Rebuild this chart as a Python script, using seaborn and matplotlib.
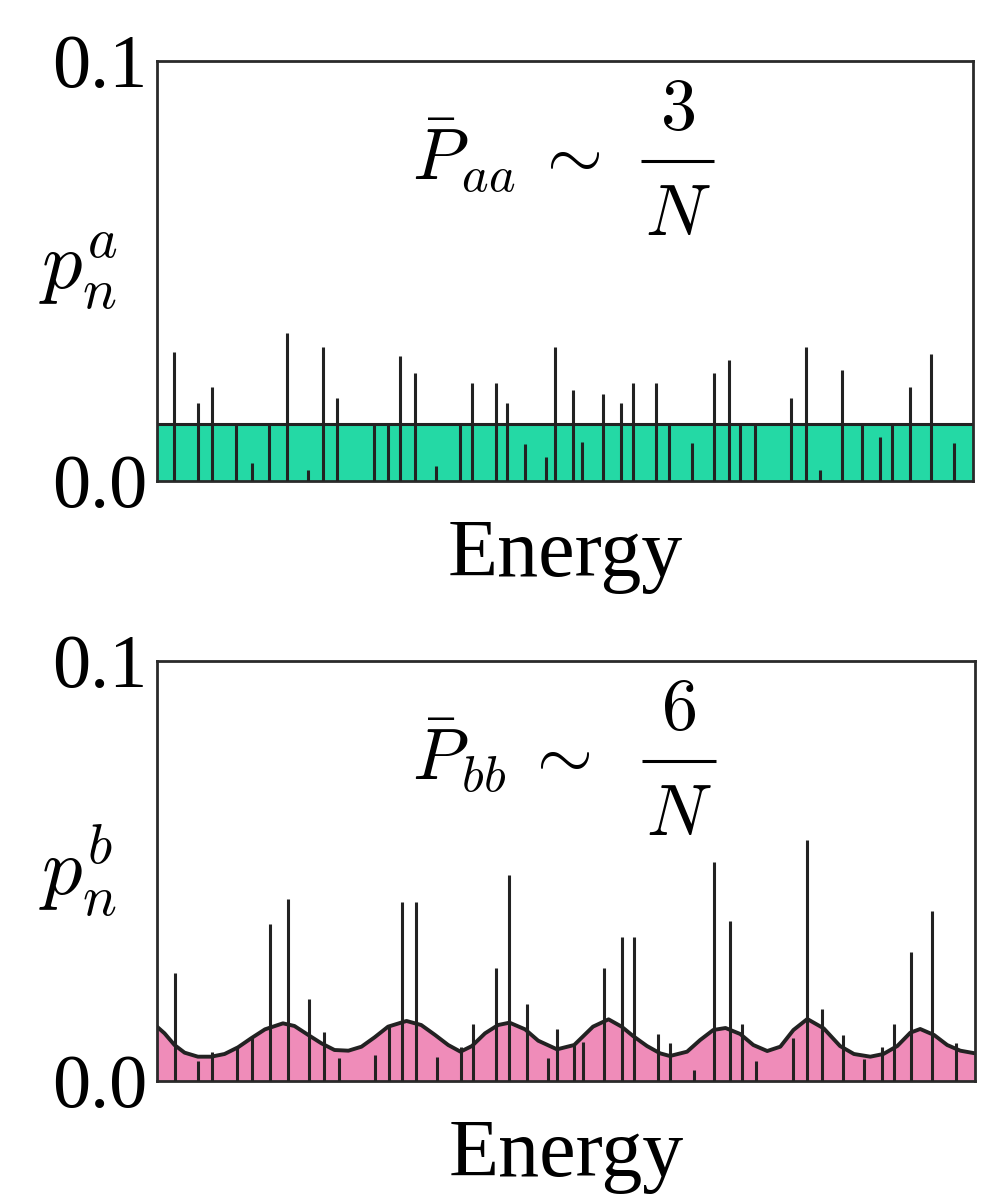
import matplotlib
matplotlib.use("Agg")
import matplotlib.pyplot as plt
import seaborn as sns
import numpy as np
import pandas as pd
from matplotlib.ticker import FixedLocator, FormatStrFormatter

sns.set_theme(style="white")
plt.rcParams['font.family'] = ['Liberation Serif', 'DejaVu Serif']
plt.rcParams['mathtext.fontset'] = 'cm'
plt.rcParams['text.color'] = 'black'
plt.rcParams['axes.labelcolor'] = 'black'

# ---------------- data ----------------
# Top panel: eigenstate weights p_n^a vs energy (energy in 0..100)
energy_a = [2.05, 4.99, 6.70, 9.72, 11.6, 13.76, 15.93, 18.5, 20.3, 22.1,
            26.56, 28.35, 29.8, 31.6, 34.2, 37.1, 38.6, 41.5, 42.9, 45.1,
            47.7, 48.8, 51.0, 52.1, 54.66, 56.86, 58.3, 61.2, 62.7, 65.6,
            68.2, 70.06, 71.5, 73.3, 77.7, 79.5, 81.3, 83.9, 86.4, 88.6,
            90.07, 92.3, 94.8, 97.7]
weights_a = [0.0308, 0.0186, 0.0223, 0.0136, 0.0044, 0.0136, 0.0352, 0.0026, 0.0318, 0.0197,
             0.0136, 0.0136, 0.0298, 0.0256, 0.0036, 0.0136, 0.0233, 0.0233, 0.0186, 0.0087,
             0.0056, 0.0318, 0.0217, 0.0094, 0.0208, 0.0186, 0.0233, 0.0233, 0.0136, 0.0090,
             0.0257, 0.0289, 0.0136, 0.0136, 0.0197, 0.0318, 0.0026, 0.0264, 0.0136, 0.0104,
             0.0136, 0.0224, 0.0302, 0.0090]
band_a = 0.0136  # flat average level

# Bottom panel: eigenstate weights p_n^b vs energy
energy_b = [2.14, 5.04, 6.76, 9.82, 11.65, 13.86, 16.0, 18.54, 20.4, 22.2,
            26.6, 28.4, 29.9, 31.7, 34.25, 37.2, 38.6, 41.5, 43.0, 45.2,
            47.8, 48.9, 51.0, 52.1, 54.7, 56.85, 58.3, 61.2, 62.7, 65.6,
            68.15, 70.0, 71.5, 73.25, 77.7, 79.5, 81.3, 83.9, 86.4, 88.6,
            90.05, 92.2, 94.8, 97.7]
weights_b = [0.0256, 0.0048, 0.0068, 0.0082, 0.0104, 0.0373, 0.0433, 0.0195, 0.0117, 0.0054,
             0.0062, 0.0133, 0.0426, 0.0426, 0.0056, 0.0080, 0.0135, 0.0269, 0.0490, 0.0183,
             0.0055, 0.0125, 0.0086, 0.0094, 0.0268, 0.0344, 0.0344, 0.0111, 0.0090, 0.0026,
             0.0522, 0.0380, 0.0135, 0.0048, 0.0102, 0.0573, 0.0172, 0.0109, 0.0052, 0.0082,
             0.0135, 0.0307, 0.0405, 0.0090]

# Bottom panel: smooth envelope (energy, value)
env_x = [0.0, 0.92, 2.14, 3.37, 5.0, 6.63, 8.26, 9.9, 11.5, 13.2,
         15.4, 16.8, 18.5, 20.1, 21.7, 23.4, 25.0, 26.6, 28.25, 30.5,
         32.3, 34.0, 35.6, 37.1, 38.5, 40.1, 41.7, 43.1, 45.0, 46.6,
         48.9, 51.0, 53.3, 55.2, 56.8, 58.2, 59.9, 61.5, 62.7, 64.8,
         66.4, 68.0, 69.5, 71.3, 72.9, 74.6, 76.2, 77.8, 79.5, 81.5,
         83.5, 85.2, 87.2, 88.8, 90.5, 92.1, 93.3, 95.0, 96.6, 98.2, 100.0]
env_y = [0.01294, 0.01135, 0.00857, 0.00675, 0.00579, 0.00579, 0.00643, 0.00802, 0.01016, 0.01230,
         0.01373, 0.01310, 0.01095, 0.00897, 0.00738, 0.00722, 0.00817, 0.01040, 0.01294, 0.01429,
         0.01333, 0.01095, 0.00857, 0.00698, 0.00833, 0.01135, 0.01333, 0.01389, 0.01230, 0.00960,
         0.00754, 0.00857, 0.01294, 0.01468, 0.01294, 0.01071, 0.00833, 0.00659, 0.00595, 0.00698,
         0.00976, 0.01214, 0.01262, 0.01119, 0.00857, 0.00714, 0.00817, 0.01214, 0.01476, 0.01254,
         0.00833, 0.00643, 0.00579, 0.00643, 0.00833, 0.01151, 0.01238, 0.01095, 0.00857, 0.00722, 0.00659]

# annotation texts
lhs_texts = [r'$\bar{P}_{aa}\>\sim$', r'$\bar{P}_{bb}\>\sim$']
numerators = [r'$3$', r'$6$']
denominator = r'$N$'
ylabels = [r'$p_n^a$', r'$p_n^b$']

# ---------------- figure ----------------
W, H = 997, 1204
fig = plt.figure(figsize=(W / 100, H / 100), dpi=100)
ax_a = fig.add_axes([157 / W, 1 - 481 / H, 816 / W, 420 / H])
ax_b = fig.add_axes([157 / W, 1 - 1081 / H, 818 / W, 420 / H])

green = '#24D9A5'
pink = '#EF8CB9'
dark = '#222222'
FS = 58
MFS = 52

# top panel
ax_a.fill_between([0, 100], [band_a, band_a], 0, color=green, lw=0, zorder=1)
ax_a.plot([0, 100], [band_a, band_a], color=dark, lw=2.2, zorder=2)
ax_a.vlines(energy_a, 0, weights_a, color=dark, lw=2.2, zorder=3)

# bottom panel
env_df = pd.DataFrame({'E': env_x, 'p': env_y})
ax_b.fill_between(env_x, env_y, 0, color=pink, lw=0, zorder=1)
sns.lineplot(data=env_df, x='E', y='p', ax=ax_b, color=dark, lw=2.8, zorder=2,
             solid_joinstyle='round', solid_capstyle='round')
ax_b.vlines(energy_b, 0, weights_b, color=dark, lw=2.2, zorder=3)

for i, ax in enumerate([ax_a, ax_b]):
    ax.set_xlim(0, 100)
    ax.set_ylim(0, 0.1)
    ax.set_xticks([])
    ax.yaxis.set_major_locator(FixedLocator([0.0, 0.1]))
    ax.yaxis.set_major_formatter(FormatStrFormatter('%.1f'))
    ax.tick_params(axis='y', length=0, pad=7, labelsize=55, colors='black')
    for sp in ax.spines.values():
        sp.set_visible(True)
        sp.set_color('#2a2a2a')
        sp.set_linewidth(2.0)
    ax.set_xlabel('Energy', fontsize=59, va='baseline')
    ax.xaxis.set_label_coords(0.5, -0.226)
    ax.set_ylabel(ylabels[i], fontsize=FS, rotation=0, ha='center', va='center')
    ax.yaxis.set_label_coords(-0.097, 0.50)
    # formula  P ~ n / N  (display-style fraction)
    ax.text(0.312, 0.715, lhs_texts[i], transform=ax.transAxes, ha='left',
            va='baseline', fontsize=MFS)
    ax.plot([0.593, 0.683], [0.761, 0.761], transform=ax.transAxes,
            color='black', lw=2.2, solid_capstyle='butt')
    ax.text(0.638, 0.837, numerators[i], transform=ax.transAxes, ha='center',
            va='baseline', fontsize=MFS)
    ax.text(0.638, 0.585, denominator, transform=ax.transAxes, ha='center',
            va='baseline', fontsize=MFS)
    ax.set_facecolor('white')

fig.savefig('out.png', dpi=100, facecolor='white')
